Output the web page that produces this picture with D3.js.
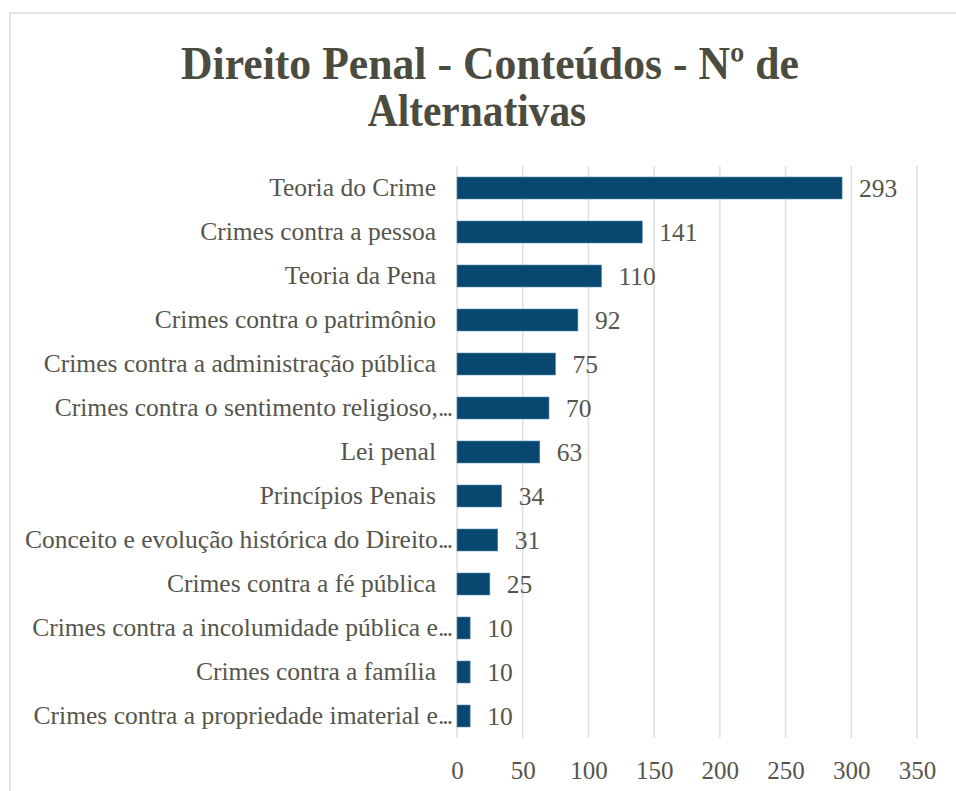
<!DOCTYPE html>
<html>
<head>
<meta charset="utf-8">
<script src="https://cdn.jsdelivr.net/npm/d3@7"></script>
<style>
  html, body { margin: 0; padding: 0; background: #fff; }
  svg { display: block; }
</style>
</head>
<body>
<div id="chart"></div>
<script>
// Direito Penal - horizontal bar chart
const categories = [
  "Teoria do Crime",
  "Crimes contra a pessoa",
  "Teoria da Pena",
  "Crimes contra o patrimônio",
  "Crimes contra a administração pública",
  "Crimes contra o sentimento religioso,…",
  "Lei penal",
  "Princípios Penais",
  "Conceito e evolução histórica do Direito…",
  "Crimes contra a fé pública",
  "Crimes contra a incolumidade pública e…",
  "Crimes contra a família",
  "Crimes contra a propriedade imaterial e…"
];
const values = [293, 141, 110, 92, 75, 70, 63, 34, 31, 25, 10, 10, 10];
const xTicks = [0, 50, 100, 150, 200, 250, 300, 350];
const titleLines = ["Direito Penal - Conteúdos - Nº de", "Alternativas"];

const width = 956, height = 791;
const margin = {top: 166, right: 39, bottom: 53, left: 457};
const serif = "'Liberation Serif', 'Times New Roman', serif";
const textColor = "#55554b";

const svg = d3.select("#chart").append("svg")
  .attr("width", width)
  .attr("height", height);

// chart frame (only top and left edges are visible)
svg.append("path")
  .attr("d", `M10,${height} V13 H${width}`)
  .attr("fill", "none")
  .attr("stroke", "#e4e4de")
  .attr("stroke-width", 2);

const x = d3.scaleLinear()
  .domain([0, 350])
  .range([margin.left, width - margin.right]);

const y = d3.scaleBand()
  .domain(categories)
  .range([margin.top, height - margin.bottom])
  .paddingInner(0.5)
  .paddingOuter(0.25);

// gridlines
svg.append("g")
  .selectAll("line")
  .data(xTicks)
  .join("line")
  .attr("x1", d => x(d)).attr("x2", d => x(d))
  .attr("y1", margin.top).attr("y2", height - margin.bottom)
  .attr("stroke", "#dedede")
  .attr("stroke-width", 1.5);

// x axis labels
const xAxis = svg.append("g")
  .attr("transform", `translate(0,${height - margin.bottom})`)
  .call(d3.axisBottom(x).tickValues(xTicks).tickSize(0).tickPadding(23));
xAxis.select(".domain").remove();
xAxis.selectAll("text")
  .attr("font-family", serif)
  .attr("font-size", 25)
  .attr("fill", textColor);

// category labels (truncated ones get a tighter ellipsis, like Excel)
const yAxis = svg.append("g")
  .attr("transform", `translate(${margin.left},0)`)
  .call(d3.axisLeft(y).tickSize(0).tickPadding(21));
yAxis.select(".domain").remove();
yAxis.selectAll("text")
  .attr("font-family", serif)
  .attr("font-size", 25.5)
  .attr("fill", textColor)
  .attr("dx", d => d.endsWith("…") ? 15 : 0)
  .each(function(d) {
    if (!d.endsWith("…")) return;
    const t = d3.select(this).text("");
    t.append("tspan").text(d.slice(0, -1));
    t.append("tspan").attr("letter-spacing", -2).text("...");
  });

// bars
svg.append("g")
  .selectAll("rect")
  .data(values)
  .join("rect")
  .attr("x", x(0))
  .attr("y", (d, i) => y(categories[i]))
  .attr("width", d => x(d) - x(0))
  .attr("height", y.bandwidth())
  .attr("fill", "#08476f")
  .attr("stroke", "#5f8fb6")
  .attr("stroke-width", 0.6);

// value labels
svg.append("g")
  .selectAll("text")
  .data(values)
  .join("text")
  .attr("x", d => x(d) + 17)
  .attr("y", (d, i) => y(categories[i]) + y.bandwidth() / 2)
  .attr("dy", "0.35em")
  .attr("font-family", serif)
  .attr("font-size", 25.5)
  .attr("fill", textColor)
  .text(d => d);

// title
svg.append("g")
  .selectAll("text")
  .data(titleLines)
  .join("text")
  .attr("transform", (d, i) => `translate(${i === 0 ? 490 : 477},${79 + i * 47}) scale(${i === 0 ? 0.95 : 0.9},1)`)
  .attr("text-anchor", "middle")
  .attr("font-family", serif)
  .attr("font-weight", "bold")
  .attr("font-size", 46)
  .attr("fill", "#4b4b3f")
  .text(d => d);
</script>
</body>
</html>
